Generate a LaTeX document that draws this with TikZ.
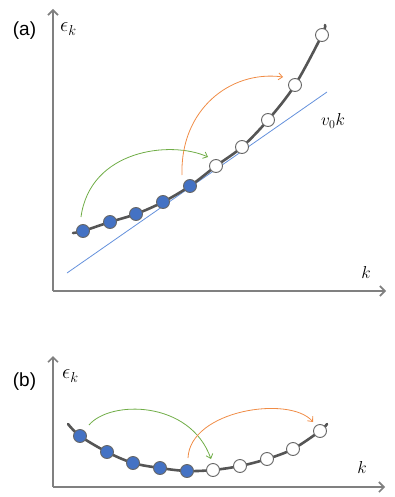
\documentclass[tikz,border=0pt]{standalone}
\usepackage{fontspec}
\setmainfont{Liberation Sans}
\usetikzlibrary{arrows.meta}
\definecolor{axisgray}{RGB}{128,128,128}
\definecolor{curvegray}{RGB}{85,85,85}
\definecolor{dotblue}{RGB}{68,114,196}
\definecolor{lineblue}{RGB}{100,145,220}
\definecolor{hopgreen}{RGB}{112,173,71}
\definecolor{hoporange}{RGB}{240,140,70}
\tikzset{
  axis/.style={draw=axisgray,line width=2pt,-{Straight Barb[length=5pt,width=10pt,line width=1.6pt]}},
  disp/.style={draw=curvegray,line width=2.6pt,line cap=round},
  filled/.style={circle,draw=curvegray!90,line width=0.9pt,fill=dotblue,minimum size=13pt,inner sep=0pt},
  empty/.style={circle,draw=curvegray!90,line width=0.9pt,fill=white,minimum size=13pt,inner sep=0pt},
  hop/.style={line width=0.8pt,-{Straight Barb[length=4pt,width=7pt,line width=0.8pt]}},
  panel/.style={font=\fontsize{19}{22}\selectfont},
  mathlbl/.style={font=\fontsize{18.5}{22}\selectfont},
  epslbl/.style={font=\fontsize{21}{24}\selectfont,anchor=west,inner sep=0pt},
}
\begin{document}
\begin{tikzpicture}[x=1pt,y=-1pt]
\useasboundingbox (0,0) rectangle (395,497);
% ---------- panel (a)
\node[panel] (la) at (24.5,31) {(a)};
\coordinate (a0) at (53,291);
\coordinate (ay) at (53,9);
\coordinate (ax) at (386,291);
\draw[axis] (a0) -- (ay);
\draw[axis] (a0) -- (ax);
\node[epslbl] (eka) at (60,29) {$\epsilon_k$};
\node[mathlbl] (ka) at (366,272) {$k$};
\coordinate (l0) at (67,273);
\coordinate (l1) at (327,92);
\draw[lineblue,line width=0.8pt] (l0) -- (l1);
\node[mathlbl] (v0k) at (333,121) {$v_0k$};
\draw[disp] plot[smooth,tension=0.55] coordinates {(73,233) (83,231) (110,222) (136,214) (163,202) (190,186) (216,166) (242,147) (268,120) (295,85) (322,35) (325,25)};
\node[filled] (a1) at (83,231) {};
\node[filled] (a2) at (110,222) {};
\node[filled] (a3) at (136,214) {};
\node[filled] (a4) at (163,202) {};
\node[filled] (a5) at (190,186) {};
\node[empty] (a6) at (216,166) {};
\node[empty] (a7) at (242,147) {};
\node[empty] (a8) at (268,120) {};
\node[empty] (a9) at (295,85) {};
\node[empty] (a10) at (322,35) {};
\coordinate (ga0) at (81,217);
\coordinate (ga1) at (208,157);
\draw[hop,hopgreen] (ga0) .. controls (90,150) and (170,140) .. (ga1);
\coordinate (oa0) at (182,175);
\coordinate (oa1) at (283,77);
\draw[hop,hoporange] (oa0) .. controls (180,110) and (230,70) .. (oa1);
% ---------- panel (b)
\node[panel] (lb) at (24.5,382) {(b)};
\coordinate (b0) at (53,487);
\coordinate (by) at (53,356);
\coordinate (bx) at (385,487);
\draw[axis] (b0) -- (by);
\draw[axis] (b0) -- (bx);
\node[epslbl] (ekb) at (62,376) {$\epsilon_k$};
\node[mathlbl] (kb) at (362,467) {$k$};
\draw[disp] plot[smooth,tension=0.55] coordinates {(68,424) (80,436) (107,452) (133,463) (160,468) (187,471) (213,470) (240,466) (267,459) (293,449) (320,431) (327,424)};
\node[filled] (b1) at (80,436) {};
\node[filled] (b2) at (107,452) {};
\node[filled] (b3) at (133,463) {};
\node[filled] (b4) at (160,468) {};
\node[filled] (b5) at (187,471) {};
\node[empty] (b6) at (213,470) {};
\node[empty] (b7) at (240,466) {};
\node[empty] (b8) at (267,459) {};
\node[empty] (b9) at (293,449) {};
\node[empty] (b10) at (320,431) {};
\coordinate (gb0) at (89,425);
\coordinate (gb1) at (211,459);
\draw[hop,hopgreen] (gb0) .. controls (110,400) and (190,400) .. (gb1);
\coordinate (ob0) at (188,458);
\coordinate (ob1) at (313,422);
\draw[hop,hoporange] (ob0) .. controls (190,410) and (290,395) .. (ob1);
\end{tikzpicture}
\end{document}
